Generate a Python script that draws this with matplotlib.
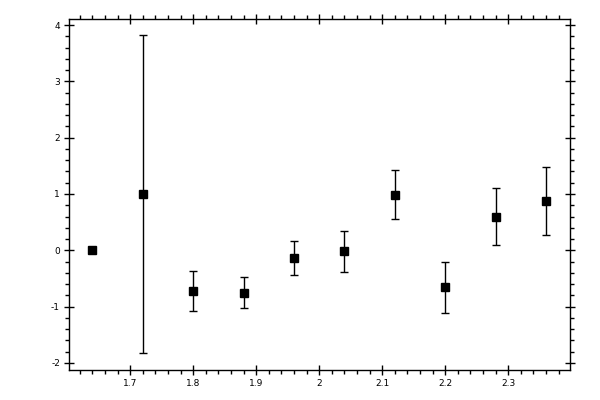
import numpy as np
import matplotlib
matplotlib.use('Agg')
import matplotlib.pyplot as plt
from matplotlib.ticker import MultipleLocator

plt.rcParams['axes.unicode_minus'] = False

# measured points with symmetric errors
x_vals = [1.64, 1.72, 1.80, 1.88, 1.96, 2.04, 2.12, 2.20, 2.28, 2.36]
y_vals = [0.0, 1.0, -0.72, -0.75, -0.13, -0.02, 0.99, -0.66, 0.60, 0.88]
y_errs = [0.0, 2.82, 0.35, 0.28, 0.30, 0.37, 0.43, 0.45, 0.50, 0.60]

fig = plt.figure(figsize=(6, 4), dpi=100)
ax = fig.add_axes([0.115, 0.075, 0.835, 0.8775])

ax.errorbar(x_vals, y_vals, yerr=y_errs, fmt='s', color='black',
            markersize=5.5, elinewidth=1, capsize=3, capthick=1)

ax.set_xlim(1.603, 2.398)
ax.set_ylim(-2.125, 4.107)

ax.xaxis.set_major_locator(MultipleLocator(0.1))
ax.xaxis.set_minor_locator(MultipleLocator(0.02))
ax.yaxis.set_major_locator(MultipleLocator(1))
ax.yaxis.set_minor_locator(MultipleLocator(0.2))
ax.xaxis.set_major_formatter(plt.FuncFormatter(lambda v, p: '{:g}'.format(round(v, 2))))
ax.yaxis.set_major_formatter(plt.FuncFormatter(lambda v, p: '{:g}'.format(round(v, 2))))

ax.tick_params(which='both', top=True, right=True, labelsize=6.5, width=1)
ax.tick_params(which='major', direction='inout', length=7, pad=3)
ax.tick_params(which='minor', direction='out', length=3)
for spine in ax.spines.values():
    spine.set_linewidth(1)

fig.savefig('out.png', dpi=100)
